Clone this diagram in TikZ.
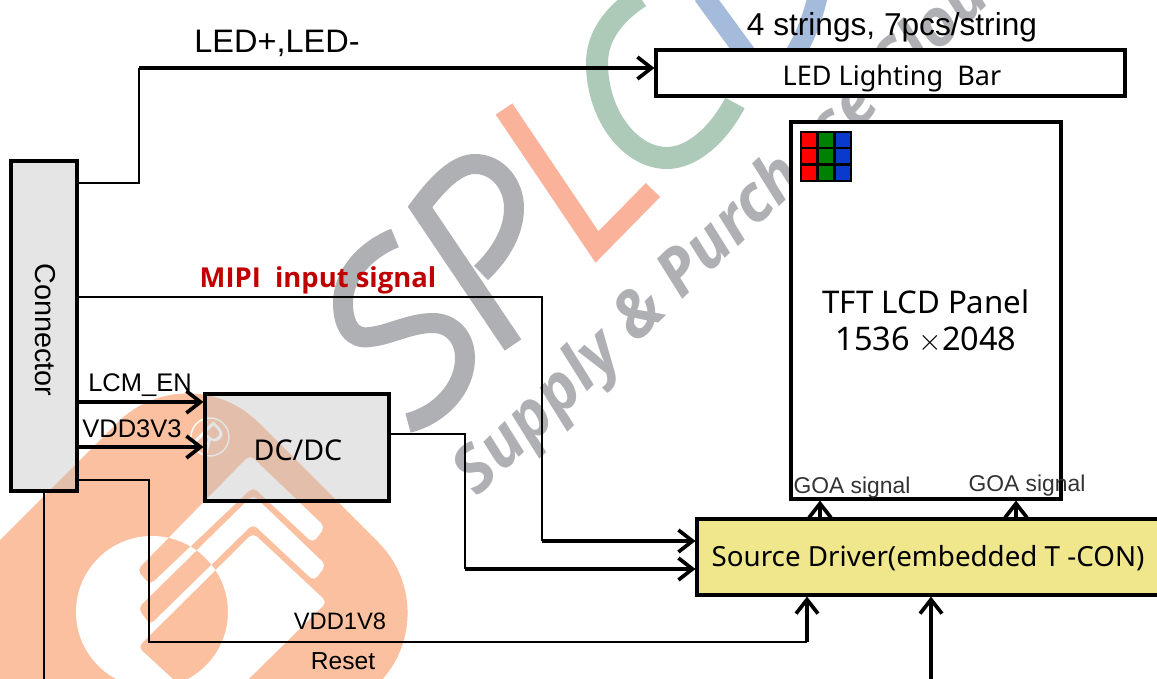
\documentclass[tikz,border=0pt]{standalone}
\usepackage{fontspec}
\setmainfont{Liberation Sans}
\newfontfamily\panelfont{Noto Sans}
\newfontfamily\markfont{Open Sans}
\usetikzlibrary{arrows.meta}

\definecolor{markgray}{HTML}{AFB0B4}
\definecolor{markorange}{HTML}{FAB39A}
\definecolor{markgreen}{HTML}{ADC9B7}
\definecolor{markblue}{HTML}{A4BBDC}
\definecolor{logoorange}{HTML}{FBC09F}
\definecolor{drivefill}{HTML}{F0E68C}
\definecolor{mipired}{HTML}{C00000}
\definecolor{pixelblue}{HTML}{0A3ACC}

\tikzset{
  blockbox/.style={draw=black, line width=1.8pt, inner sep=0pt},
  thinline/.style={line width=1.2pt},
  sigarrow/.style={line width=2.1pt, -{Straight Barb[length=8pt, width=12.5pt, line width=2.1pt]}},
  markstroke/.style={line width=0.4cm},
  arial/.style={font=\fontsize{#1}{#1}\selectfont, inner sep=0pt},
  tahoma/.style={font=\panelfont\fontsize{#1}{#1}\selectfont, inner sep=0pt}
}

\begin{document}
\begin{tikzpicture}[x=0.02cm, y=-0.02cm]
\useasboundingbox (0,0) rectangle (1157,679);

% Logo
\fill[logoorange, rounded corners=2cm] (188,352) -- (449,613) -- (249,813) -- (-273,813) -- cycle;
\fill[white, even odd rule] (152,612) circle (76)
  [rounded corners=3pt]
  (250,455) -- (325,527) -- (313,543) -- (253,487) -- (150,585) -- (137,570) -- cycle
  (253,495) -- (326,565) -- (314,581) -- (253,524) -- (150,625) -- (138,608) -- cycle
  (253,533) -- (327,602) -- (212,715) -- (138,647) -- cycle;
\draw[white, line width=0.8pt] (210,437) circle (19);
\node[font=\markfont\fontsize{22}{22}\selectfont, text=white, rotate=-45] (regmark) at (210,437) {R};

% Big letters
\draw[markgray, markstroke] (395,238) .. controls (365,250) and (343,275) .. (343,303)
  .. controls (343,325) and (352,340) .. (370,337) .. controls (390,335) and (410,323) .. (433,323)
  .. controls (452,323) and (465,338) .. (465,358) .. controls (465,388) and (440,415) .. (408,423);
\draw[markgray, markstroke] (513,345) -- (420,207) .. controls (440,180) and (458,164) .. (475,164)
  .. controls (498,164) and (514,185) .. (514,208) .. controls (514,232) and (500,255) .. (481,273);
\draw[markorange, markstroke] (504,109) -- (597,247) -- (653,190);
\draw[markgreen, line width=0.44cm] (640,-3) .. controls (612,15) and (597,38) .. (597,63)
  .. controls (597,115) and (630,158) .. (667,158) .. controls (692,158) and (718,135) .. (735,103);
\draw[markblue, markstroke] (703,-5) -- (752,62);
\draw[markblue, markstroke] (818,-5) .. controls (812,20) and (805,40) .. (785,70);

% Slanted text
\node[font=\markfont\bfseries\itshape\fontsize{37}{37}\selectfont, text=markgray, rotate=44, anchor=base west] (marktext) at (473,502) {Supply \& Purchase Cloud};

% Blocks
\node[blockbox, fill=black!25, fill opacity=0.4, text opacity=1, minimum width=1.32cm, minimum height=6.6cm] (conn) at (44,326) {};
\node[arial=16.4, rotate=-90] (connlabel) at (45,330) {Connector};
\node[blockbox, fill=white, minimum width=9.38cm, minimum height=0.92cm] (bar) at (890.5,73) {};
\node[tahoma=15.4] (barlabel) at (892,78) {LED Lighting\ \ Bar};
\node[blockbox, fill=white, minimum width=5.4cm, minimum height=7.54cm] (panel) at (926,310.5) {};
\node[blockbox, fill=black!25, fill opacity=0.4, text opacity=1, minimum width=3.68cm, minimum height=2.14cm] (dcdc) at (297,447.5) {};
\node[tahoma=16.3] (dcdclabel) at (298,450) {DC/DC};
\node[blockbox, fill=drivefill, minimum width=9.28cm, minimum height=1.52cm] (driver) at (929,557) {};
\node[tahoma=15.8] (driverlabel) at (928,558) {Source Driver(embedded T -CON)};

% Pixels
\fill[black] (800,131) rectangle (852,182);
\foreach \px/\pc in {802/red, 819/green!50!black, 836/pixelblue} {
  \foreach \py in {133,149,166} {
    \fill[\pc] (\px,\py) rectangle +(14,14);
  }
}

% Panel text
\node[tahoma=17.8] (paneltop) at (926,302) {TFT LCD Panel};
\node[tahoma=18.5] (panelsize) at (926,340) {1536 $\times$2048};

% Labels
\node[arial=18.5] (ledlabel) at (277,43) {LED+,LED-};
\node[arial=18] (stringlabel) at (892,27) {4 strings, 7pcs/string};
\node[font=\markfont\bfseries\fontsize{15.6}{15.6}\selectfont, text=mipired, inner sep=0pt] (mipilabel) at (318,280) {MIPI\ \ input\ signal};
\node[arial=14.5] (enlabel) at (140,385) {LCM\_EN};
\node[arial=14.5] (vddlabel) at (132,429) {VDD3V3};
\node[arial=13.5] (vlowlabel) at (340,621) {VDD1V8};
\node[arial=14] (resetlabel) at (343,661) {Reset};
\node[arial=13, text=black!80] (goaleft) at (852,488) {GOA signal};
\node[arial=13, text=black!80] (goaright) at (1027,486) {GOA signal};

% Bend points
\coordinate (ledlow) at (139,183);
\coordinate (ledhigh) at (139,68);
\coordinate (mipitop) at (542,297);
\coordinate (mipilow) at (542,541);
\coordinate (enleft) at (77,402);
\coordinate (vddleft) at (77,447);
\coordinate (dctop) at (465,434);
\coordinate (dclow) at (465,569);
\coordinate (vltop) at (149,480);
\coordinate (vllow) at (149,642);
\coordinate (vlend) at (807,642);
\coordinate (goafoot) at (820,519);
\coordinate (goafeet) at (1016,519);
\coordinate (panelfoot) at (44,679);
\coordinate (drivefoot) at (931,679);

% LED supply
\draw[thinline] (conn.east |- ledlow) -- (ledlow) -- (ledhigh);
\draw[sigarrow] (ledhigh) -- (bar.west |- ledhigh);

% MIPI
\draw[thinline] (conn.east |- mipitop) -- (mipitop) -- (mipilow);
\draw[sigarrow] (mipilow) -- (driver.west |- mipilow);

% Power
\draw[sigarrow] (enleft) -- (dcdc.west |- enleft);
\draw[sigarrow] (vddleft) -- (dcdc.west |- vddleft);
\draw[thinline] (dcdc.east |- dctop) -- (dctop) -- (dclow);
\draw[sigarrow] (dclow) -- (driver.west |- dclow);
\draw[thinline] (conn.east |- vltop) -- (vltop) -- (vllow) -- (vlend);
\draw[sigarrow] (vlend) -- (vlend |- driver.south);

% Other arrows
\draw[sigarrow] (goafoot) -- (goafoot |- panel.south);
\draw[sigarrow] (goafeet) -- (goafeet |- panel.south);
\draw[thinline] (conn.south) -- (panelfoot);
\draw[sigarrow, line width=2.4pt] (drivefoot) -- (drivefoot |- driver.south);

\end{tikzpicture}
\end{document}
